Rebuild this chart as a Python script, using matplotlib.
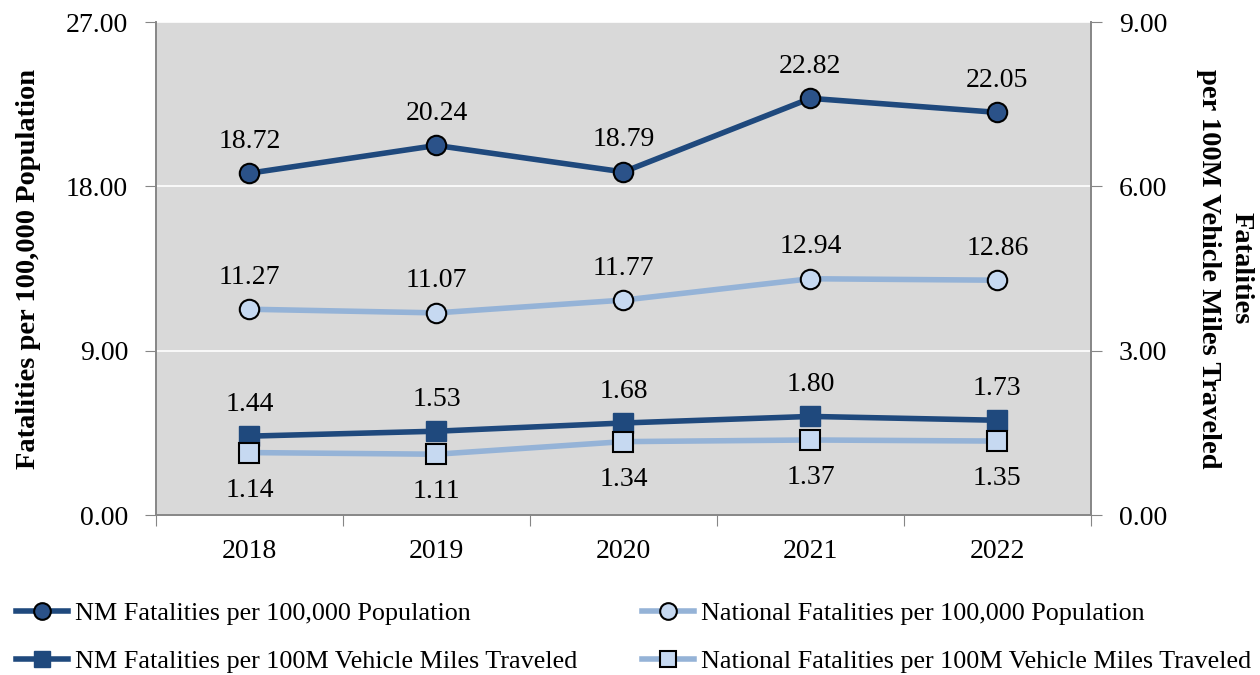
import matplotlib.pyplot as plt
from matplotlib.lines import Line2D

years = ['2018', '2019', '2020', '2021', '2022']
nm_pop = [18.72, 20.24, 18.79, 22.82, 22.05]
nat_pop = [11.27, 11.07, 11.77, 12.94, 12.86]
nm_vmt = [1.44, 1.53, 1.68, 1.80, 1.73]
nat_vmt = [1.14, 1.11, 1.34, 1.37, 1.35]

dark = '#1F497D'
light = '#95B3D7'
pale = '#C6D9F1'

plt.rcParams['font.family'] = ['Liberation Serif', 'DejaVu Serif']

fig = plt.figure(figsize=(12.6, 6.75), dpi=100)
ax = fig.add_axes([0.1238, 0.237, 0.742, 0.7304])
ax2 = ax.twinx()
ax.set_facecolor('#D9D9D9')

x = list(range(len(years)))

ax.plot(x, nm_pop, color=dark, lw=4, marker='o', ms=14, mfc='#2B5289',
        mec='black', mew=1.5, zorder=3)
ax.plot(x, nat_pop, color=light, lw=4, marker='o', ms=14, mfc=pale,
        mec='black', mew=1.5, zorder=3)
ax2.plot(x, nm_vmt, color=dark, lw=4, marker='s', ms=14, mfc=dark,
         mec=dark, zorder=3)
ax2.plot(x, nat_vmt, color=light, lw=4, marker='s', ms=14, mfc=pale,
         mec='black', mew=1.5, zorder=3)

# value labels
fs = 20
for i in x:
    ax.annotate(f'{nm_pop[i]:.2f}', (i, nm_pop[i]), xytext=(0, 23),
                textcoords='offset points', ha='center', va='center', fontsize=fs)
    ax.annotate(f'{nat_pop[i]:.2f}', (i, nat_pop[i]), xytext=(0, 23),
                textcoords='offset points', ha='center', va='center', fontsize=fs)
    ax2.annotate(f'{nm_vmt[i]:.2f}', (i, nm_vmt[i]), xytext=(0, 23),
                 textcoords='offset points', ha='center', va='center', fontsize=fs)
    ax2.annotate(f'{nat_vmt[i]:.2f}', (i, nat_vmt[i]), xytext=(0, -27),
                 textcoords='offset points', ha='center', va='center', fontsize=fs)

ax.set_xlim(-0.5, len(years) - 0.5)
ax.set_ylim(0, 27)
ax2.set_ylim(0, 9)
ax.set_yticks([0, 9, 18, 27])
ax2.set_yticks([0, 3, 6, 9])
ax.set_yticklabels([f'{v:.2f}' for v in [0, 9, 18, 27]], fontsize=fs)
ax2.set_yticklabels([f'{v:.2f}' for v in [0, 3, 6, 9]], fontsize=fs)

ax.set_xticks([i - 0.5 for i in range(len(years) + 1)])
ax.set_xticklabels([])
ax.set_xticks(x, minor=True)
ax.set_xticklabels(years, minor=True, fontsize=fs)
ax.tick_params(axis='x', which='minor', length=0, pad=17)
ax.tick_params(axis='x', which='major', length=8, color='#868686')
ax.tick_params(axis='y', length=8, color='#868686', pad=12)
ax2.tick_params(axis='y', length=8, color='#868686', pad=12)

ax.grid(axis='y', color='white', lw=1.2)
ax.set_axisbelow(True)
for a in (ax, ax2):
    for s in a.spines.values():
        s.set_color('#868686')
        s.set_linewidth(1.2)
    a.spines['top'].set_visible(False)

ax.set_ylabel('Fatalities per 100,000 Population', fontsize=20.5,
              fontweight='bold', labelpad=18)
ax2.set_ylabel('Fatalities\nper 100M Vehicle Miles Traveled', fontsize=20.5,
               fontweight='bold', rotation=270, labelpad=62, linespacing=1.4)

# legend: NM series on the left, national series on the right
nm_handles = [
    Line2D([], [], color=dark, lw=4, marker='o', ms=12, mfc='#2B5289', mec='black', mew=1.5),
    Line2D([], [], color=dark, lw=4, marker='s', ms=12, mfc=dark, mec=dark),
]
nat_handles = [
    Line2D([], [], color=light, lw=4, marker='o', ms=12, mfc=pale, mec='black', mew=1.5),
    Line2D([], [], color=light, lw=4, marker='s', ms=12, mfc=pale, mec='black', mew=1.5),
]
nm_labels = ['NM Fatalities per 100,000 Population',
             'NM Fatalities per 100M Vehicle Miles Traveled']
nat_labels = ['National Fatalities per 100,000 Population',
              'National Fatalities per 100M Vehicle Miles Traveled']
leg_kw = dict(loc='center left', frameon=False, fontsize=18.8, handlelength=2.0,
              handletextpad=0.25, labelspacing=0.95, borderpad=0, borderaxespad=0)
fig.legend(nm_handles, nm_labels, bbox_to_anchor=(0.0127, 0.056), **leg_kw)
fig.legend(nat_handles, nat_labels, bbox_to_anchor=(0.5095, 0.056), **leg_kw)

fig.savefig('out.png', dpi=100)
